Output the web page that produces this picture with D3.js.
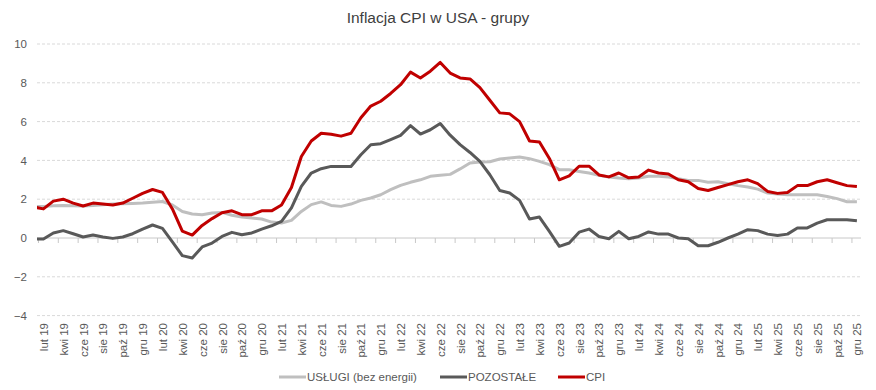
<!DOCTYPE html>
<html>
<head>
<meta charset="utf-8">
<script src="https://cdn.jsdelivr.net/npm/d3@7/dist/d3.min.js"></script>
<style>
  html, body { margin: 0; padding: 0; background: #fff; }
  svg { display: block; font-family: "Liberation Sans", Arial, sans-serif; }
</style>
</head>
<body>
<svg id="chart" width="876" height="390"></svg>
<script>
const title = "Inflacja CPI w USA - grupy";

const categories = [
  "sty 19","lut 19","mar 19","kwi 19","maj 19","cze 19","lip 19","sie 19","wrz 19","paź 19","lis 19","gru 19",
  "sty 20","lut 20","mar 20","kwi 20","maj 20","cze 20","lip 20","sie 20","wrz 20","paź 20","lis 20","gru 20",
  "sty 21","lut 21","mar 21","kwi 21","maj 21","cze 21","lip 21","sie 21","wrz 21","paź 21","lis 21","gru 21",
  "sty 22","lut 22","mar 22","kwi 22","maj 22","cze 22","lip 22","sie 22","wrz 22","paź 22","lis 22","gru 22",
  "sty 23","lut 23","mar 23","kwi 23","maj 23","cze 23","lip 23","sie 23","wrz 23","paź 23","lis 23","gru 23",
  "sty 24","lut 24","mar 24","kwi 24","maj 24","cze 24","lip 24","sie 24","wrz 24","paź 24","lis 24","gru 24",
  "sty 25","lut 25","mar 25","kwi 25","maj 25","cze 25","lip 25","sie 25","wrz 25","paź 25","lis 25","gru 25"
];

// every second category is labelled (lut, kwi, cze, sie, paź, gru)
const tickLabels = categories.filter((c, i) => i % 2 === 1);

const seriesNames = ["USŁUGI (bez energii)", "POZOSTAŁE", "CPI"];

const uslugi = [
  1.62,1.63,1.66,1.68,1.66,1.65,1.68,1.72,1.75,1.77,1.78,1.80,
  1.84,1.88,1.70,1.37,1.24,1.20,1.29,1.32,1.17,1.08,1.03,0.98,
  0.82,0.77,0.91,1.37,1.72,1.86,1.68,1.63,1.75,1.94,2.06,2.23,
  2.49,2.71,2.87,3.00,3.18,3.23,3.28,3.56,3.87,3.92,3.93,4.07,
  4.12,4.18,4.09,3.95,3.78,3.52,3.52,3.43,3.35,3.23,3.14,3.09,
  3.06,3.09,3.18,3.18,3.14,3.06,2.97,2.97,2.87,2.90,2.80,2.70,
  2.63,2.52,2.32,2.27,2.23,2.23,2.23,2.23,2.14,2.03,1.87,1.87
];

const pozostale = [
  -0.05,-0.05,0.26,0.38,0.22,0.05,0.15,0.05,-0.02,0.05,0.22,0.46,
  0.67,0.50,-0.20,-0.91,-1.03,-0.46,-0.26,0.08,0.29,0.17,0.26,0.46,
  0.63,0.86,1.55,2.66,3.35,3.57,3.69,3.69,3.69,4.29,4.81,4.86,
  5.07,5.29,5.79,5.36,5.58,5.90,5.30,4.81,4.41,3.95,3.26,2.45,
  2.32,1.94,0.98,1.08,0.34,-0.43,-0.26,0.30,0.46,0.08,-0.04,0.34,
  -0.04,0.08,0.31,0.20,0.20,0.00,-0.04,-0.40,-0.40,-0.22,0.00,0.20,
  0.43,0.38,0.20,0.13,0.20,0.52,0.52,0.77,0.94,0.94,0.94,0.89
];

const cpi = [
  1.60,1.50,1.90,2.00,1.80,1.65,1.80,1.75,1.70,1.80,2.05,2.30,
  2.50,2.35,1.50,0.35,0.15,0.65,1.00,1.30,1.40,1.20,1.20,1.40,
  1.40,1.70,2.60,4.20,5.00,5.40,5.35,5.25,5.40,6.20,6.80,7.05,
  7.45,7.90,8.55,8.25,8.60,9.05,8.50,8.25,8.20,7.75,7.10,6.45,
  6.40,6.00,5.00,4.95,4.10,3.00,3.20,3.70,3.70,3.25,3.15,3.35,
  3.10,3.15,3.50,3.35,3.30,3.00,2.90,2.55,2.45,2.60,2.75,2.90,
  3.00,2.80,2.40,2.30,2.35,2.70,2.70,2.90,3.00,2.85,2.70,2.65
];

const yTicks = [-4, -2, 0, 2, 4, 6, 8, 10];

const colors = ["#BFBFBF", "#595959", "#C00000"];
const seriesData = [uslugi, pozostale, cpi];

const svg = d3.select("#chart");
const plotLeft = 37, plotRight = 861;

const x = d3.scalePoint().domain(categories).range([33.5, 856.9]);
const step = x.step();
const y = d3.scaleLinear().domain([-4, 10]).range([315.6, 44]);

svg.append("defs").append("clipPath").attr("id", "plotclip")
  .append("rect").attr("x", plotLeft).attr("y", 0)
  .attr("width", plotRight - plotLeft).attr("height", 390);

// title
svg.append("text")
  .attr("x", 438).attr("y", 23)
  .attr("text-anchor", "middle")
  .attr("font-size", 15.5)
  .attr("fill", "#404040")
  .text(title);

// y axis labels
const yAxis = d3.axisLeft(y).tickValues(yTicks).tickSize(0).tickPadding(10)
  .tickFormat(d3.format("d"));
const gy = svg.append("g").attr("transform", `translate(${plotLeft},0)`).call(yAxis);
gy.select(".domain").remove();
gy.selectAll("text").attr("font-size", 11.5).attr("fill", "#595959")
  .attr("font-family", "Liberation Sans, Arial, sans-serif");

// gridlines
svg.append("g").selectAll("line")
  .data(yTicks.filter(d => d !== 0))
  .join("line")
  .attr("x1", plotLeft).attr("x2", plotRight)
  .attr("y1", d => y(d)).attr("y2", d => y(d))
  .attr("stroke", "#D9D9D9")
  .attr("stroke-width", 1)
  .attr("stroke-dasharray", "3,2");

// x axis (at zero)
const xAxis = d3.axisBottom(x)
  .tickValues(tickLabels)
  .tickSize(0)
  .tickFormat(d => d);
const gx = svg.append("g").attr("transform", `translate(0,${y(0)})`).call(xAxis);
gx.select(".domain").remove();
gx.selectAll(".tick text")
  .attr("transform", `translate(0,${323 - y(0)}) rotate(-90)`)
  .attr("x", 0).attr("y", 0).attr("dy", "0.35em")
  .attr("text-anchor", "end")
  .attr("font-size", 11.5)
  .attr("fill", "#595959")
  .attr("font-family", "Liberation Sans, Arial, sans-serif");

svg.append("line")
  .attr("x1", plotLeft).attr("x2", plotRight)
  .attr("y1", y(0)).attr("y2", y(0))
  .attr("stroke", "#C8C8C8").attr("stroke-width", 1);

svg.append("g").selectAll("line")
  .data(tickLabels)
  .join("line")
  .attr("x1", d => Math.max(plotLeft, x(d) - step / 2))
  .attr("x2", d => Math.max(plotLeft, x(d) - step / 2))
  .attr("y1", y(0)).attr("y2", y(0) + 5)
  .attr("stroke", "#C8C8C8").attr("stroke-width", 1);

// lines
const line = d3.line()
  .x((d, i) => x(categories[i]))
  .y(d => y(d));

svg.append("g").attr("clip-path", "url(#plotclip)")
  .selectAll("path")
  .data(seriesData)
  .join("path")
  .attr("d", d => line(d))
  .attr("fill", "none")
  .attr("stroke", (d, i) => colors[i])
  .attr("stroke-width", 3)
  .attr("stroke-linejoin", "round");

// legend
const legendItems = [
  { name: seriesNames[0], color: colors[0], x: 279 },
  { name: seriesNames[1], color: colors[1], x: 440 },
  { name: seriesNames[2], color: colors[2], x: 558 }
];
const lg = svg.append("g");
const li = lg.selectAll("g").data(legendItems).join("g")
  .attr("transform", d => `translate(${d.x},377)`);
li.append("line").attr("x1", 0).attr("x2", 27).attr("y1", 0).attr("y2", 0)
  .attr("stroke", d => d.color).attr("stroke-width", 3);
li.append("text").attr("x", 28).attr("y", 0).attr("dy", "0.35em")
  .attr("font-size", 11.5).attr("fill", "#595959")
  .text(d => d.name);
</script>
</body>
</html>
